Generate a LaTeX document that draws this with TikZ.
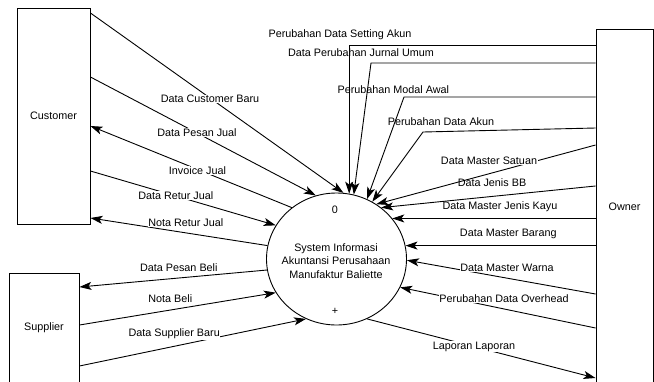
\documentclass[tikz,border=0pt]{standalone}
\usepackage{fontspec}
\setmainfont{Liberation Sans}
\usetikzlibrary{positioning}
\usetikzlibrary{shapes.geometric}
\usetikzlibrary{arrows.meta}

\begin{document}
\begin{tikzpicture}[
	x=1pt, y=-1pt,
	font=\fontsize{10.8}{13.5}\selectfont,
	entitybox/.style={rectangle, draw=black, line width=0.9pt, fill=white, inner sep=0pt},
	processnode/.style={ellipse, draw=black, line width=0.9pt, fill=white, minimum width=140pt, minimum height=132pt, inner sep=0pt, align=center},
	flowlabel/.style={fill=white, inner sep=0.6pt},
	dataflow/.style={line width=0.9pt, -{Stealth[length=12pt,width=8pt,inset=3pt]}},
	]
	\useasboundingbox (0,0) rectangle (654,381);
	\clip (0,0) rectangle (654,381);
	%Nodes
	\node[entitybox, minimum width=73pt, minimum height=216pt]  (cust) at (53.5,116)  {Customer};
	\node[entitybox, minimum width=70pt, minimum height=110pt]  (sup)  at (44,328)    {Supplier};
	\node[entitybox, minimum width=57pt, minimum height=356pt]  (own)  at (624.5,207) {Owner};
	\node[processnode] (sys) at (336.5,259) {};
	\node (ptext) at (336,261) [align=center] {System Informasi\\Akuntansi Perusahaan\\Manufaktur Baliette};
	\node (pid)   at (335,210) {0};
	\node (pplus) at (335,311) {+};
	
	%Lines
	\draw[dataflow] (cust.east |- 0,13) -- (sys.84);
	\node[flowlabel] (l1) at (210,99) {Data Customer Baru};
	\draw[dataflow] (cust.east |- 0,77) -- (sys.108);
	\node[flowlabel] (l2) at (197,132.7) {Data Pesan Jual};
	\draw[dataflow] (sys.131) -- (cust.east |- 0,126);
	\node[flowlabel] (l3) at (197.5,170.7) {Invoice Jual};
	\draw[dataflow] (cust.east |- 0,171) -- (sys.151);
	\node[flowlabel] (l4) at (175.8,195.7) {Data Retur Jual};
	\draw[dataflow] (sys.169) -- (cust.east |- 0,218);
	\node[flowlabel] (l5) at (185.8,222.3) {Nota Retur Jual};
	\draw[dataflow] (sys.189) -- (sup.east |- 0,287);
	\node[flowlabel] (l6) at (178.8,267.3) {Data Pesan Beli};
	\draw[dataflow] (sup.east |- 0,325) -- (sys.209);
	\node[flowlabel] (l7) at (170.3,299) {Nota Beli};
	\draw[dataflow] (sup.east |- 0,366) -- (sys.243);
	\node[flowlabel] (l8) at (174.2,334) {Data Supplier Baru};
	
	\draw[dataflow] (sys.297) -- (own.west |- 0,378);
	\node[flowlabel] (l9) at (474,346.7) {Laporan Laporan};
	\draw[dataflow] (own.west |- 0,328) -- (sys.336);
	\node[flowlabel] (l10) at (504,298.3) {Perubahan Data Overhead};
	\draw[dataflow] (own.west |- 0,294) -- (sys.359);
	\node[flowlabel] (l11) at (507,267.7) {Data Master Warna};
	\draw[dataflow] (own.west |- sys.11) -- (sys.11);
	\node[flowlabel] (l12) at (508.3,234.3) {Data Master Barang};
	\draw[dataflow] (own.west |- sys.36) -- (sys.36);
	\node[flowlabel] (l13) at (500,206.7) {Data Master Jenis Kayu};
	\draw[dataflow] (own.west |- 0,186) -- (sys.49);
	\node[flowlabel] (l14) at (492,182.7) {Data Jenis BB};
	\draw[dataflow] (own.west |- 0,145) -- (sys.54);
	\node[flowlabel] (l15) at (489,160.7) {Data Master Satuan};
	\draw[dataflow] (own.west |- 0,128) -- (423,132) -- (sys.58);
	\node[flowlabel] (l16) at (441,121.7) {Perubahan Data Akun};
	\draw[dataflow] (own.west |- 0,97) -- (404,97) -- (sys.63);
	\node[flowlabel] (l17) at (393.3,89.3) {Perubahan Modal Awal};
	\draw[dataflow] (own.west |- 0,63) -- (371,63) -- (sys.75);
	\node[flowlabel] (l18) at (361,53) {Data Perubahan Jurnal Umum};
	\node[flowlabel] (l19) at (340,35) {Perubahan Data Setting Akun};
	\draw[dataflow] (own.west |- 0,45) -| (sys.79);
\end{tikzpicture}
\end{document}
